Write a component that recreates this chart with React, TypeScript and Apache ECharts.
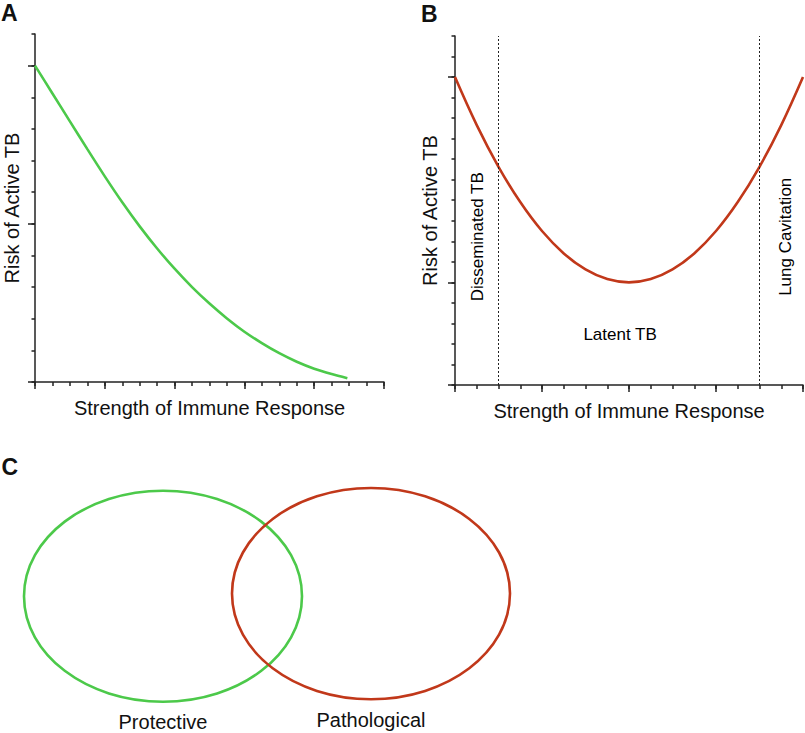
import React, { useEffect, useRef } from "react";
import * as echarts from "echarts";

const FONT = "'Liberation Sans', Arial, Helvetica, sans-serif";
const INK = "#222222";
const GREEN = "#4cc94a";
const RED = "#c1381a";

// ---------- Panel A: risk falls with immune strength ----------
const aX = [0, 1, 2, 3, 4, 5, 6, 7, 8, 9, 10, 11, 12, 13, 14, 15, 16, 17, 17.9];
const aY = [10, 9.12, 8.24, 7.36, 6.5, 5.68, 4.92, 4.22, 3.58, 3.0, 2.48, 2.01, 1.59, 1.23, 0.91, 0.64, 0.42, 0.25, 0.12];
const aXMax = 20;
const aYMax = 11;
const aXMajor = [0, 4, 8, 12, 16, 20];
const aYMajor = [0, 5, 10];

// ---------- Panel B: U-shaped risk ----------
const bX = [0, 1, 2, 3, 4, 5, 6, 7, 8, 9, 10, 11, 12, 13, 14, 15, 16];
const bY = [15, 12.66, 10.63, 8.91, 7.5, 6.41, 5.63, 5.16, 5, 5.16, 5.63, 6.41, 7.5, 8.91, 10.63, 12.66, 15];
const bXMax = 16;
const bYMax = 17;
const bXMajor = [0, 4, 8, 12, 16];
const bYMajor = [0, 5, 15];
const bDashed = [2, 14];
const bLabelNames = ["Disseminated TB", "Lung Cavitation", "Latent TB"];
const bLabelX = [1.03, 15.2, 7.59];
const bLabelY = [7.22, 7.22, 2.44];
const bLabelRotate = [90, 90, 0];

// ---------- Panel C: Venn ----------
const vennNames = ["Protective", "Pathological"];
const vennCx = [163, 371];
const vennCy = [596.2, 593.6];
const vennRx = [139, 139];
const vennRy = [105.5, 105.6];
const vennColors = [GREEN, RED];

const AXIS_NAME_X = "Strength of Immune Response";
const AXIS_NAME_Y = "Risk of Active TB";

const range = (n: number) => Array.from({ length: n + 1 }, (_, i) => String(i));

function valueAxis(gridIndex: number, max: number, name: string, gap: number, tickLen: number) {
  return {
    type: "value",
    gridIndex,
    min: 0,
    max,
    interval: 1,
    name,
    nameLocation: "middle",
    nameGap: gap,
    nameTextStyle: { fontSize: 20, color: "#111", fontFamily: FONT },
    axisLine: { show: true, onZero: false, lineStyle: { color: INK, width: 1.5 } },
    axisTick: { show: true, length: tickLen, lineStyle: { color: INK, width: 1.5 } },
    axisLabel: { show: false },
    splitLine: { show: false },
  };
}

function majorAxis(gridIndex: number, max: number, majors: number[], tickLen: number) {
  return {
    type: "category",
    gridIndex,
    data: range(max),
    boundaryGap: false,
    axisLine: { show: false, onZero: false },
    axisTick: {
      show: true,
      length: tickLen,
      interval: (i: number) => majors.includes(i),
      lineStyle: { color: INK, width: 1.5 },
    },
    axisLabel: { show: false },
    splitLine: { show: false },
  };
}

export default function App() {
  const ref = useRef<HTMLDivElement>(null);

  useEffect(() => {
    document.body.style.margin = "0";
    if (!ref.current) return;
    const chart = echarts.init(ref.current, undefined, { renderer: "svg" });

    const option = {
      animation: false,
      backgroundColor: "#ffffff",
      textStyle: { fontFamily: FONT },
      grid: [
        { left: 35, top: 34, width: 349, height: 348, outerBoundsMode: "none" },
        { left: 455, top: 36, width: 348, height: 349, outerBoundsMode: "none" },
        { left: 0, top: 0, width: 805, height: 733, outerBoundsMode: "none" },
      ],
      xAxis: [
        { ...valueAxis(0, aXMax, AXIS_NAME_X, 15.5, 4), position: "bottom" },
        { ...majorAxis(0, aXMax, aXMajor, 7), position: "bottom" },
        { ...valueAxis(1, bXMax, AXIS_NAME_X, 15.5, 4), position: "bottom" },
        { ...majorAxis(1, bXMax, bXMajor, 7), position: "bottom" },
        { type: "value", gridIndex: 2, min: 0, max: 805, show: false },
      ],
      yAxis: [
        { ...valueAxis(0, aYMax, AXIS_NAME_Y, 13, 3.5), position: "left" },
        { ...majorAxis(0, aYMax, aYMajor, 7), position: "left" },
        { ...valueAxis(1, bYMax, AXIS_NAME_Y, 15.5, 3.5), position: "left" },
        { ...majorAxis(1, bYMax, bYMajor, 7), position: "left" },
        { type: "value", gridIndex: 2, min: 0, max: 733, inverse: true, show: false },
      ],
      graphic: [
        { type: "text", x: 1, y: 13.4, style: { text: "A", fill: "#111", fontSize: 23, fontWeight: "bold", fontFamily: FONT, verticalAlign: "middle" } },
        { type: "text", x: 421, y: 13.6, style: { text: "B", fill: "#111", fontSize: 23, fontWeight: "bold", fontFamily: FONT, verticalAlign: "middle" } },
        { type: "text", x: 1.5, y: 466.5, style: { text: "C", fill: "#111", fontSize: 23, fontWeight: "bold", fontFamily: FONT, verticalAlign: "middle" } },
      ],
      series: [
        {
          type: "line",
          xAxisIndex: 0,
          yAxisIndex: 0,
          data: aX.map((x, i) => [x, aY[i]]),
          showSymbol: false,
          smooth: 0.3,
          lineStyle: { color: GREEN, width: 2.6 },
          silent: true,
        },
        {
          type: "line",
          xAxisIndex: 2,
          yAxisIndex: 2,
          data: bX.map((x, i) => [x, bY[i]]),
          showSymbol: false,
          smooth: 0.4,
          lineStyle: { color: RED, width: 2.6 },
          silent: true,
          markLine: {
            silent: true,
            symbol: ["none", "none"],
            label: { show: false },
            lineStyle: { color: INK, width: 1, type: [2, 2] },
            data: bDashed.map((x) => ({ xAxis: x })),
          },
        },
        {
          type: "scatter",
          xAxisIndex: 2,
          yAxisIndex: 2,
          symbolSize: 1,
          itemStyle: { color: "#ffffff" },
          silent: true,
          data: bLabelNames.map((n, i) => ({
            name: n,
            value: [bLabelX[i], bLabelY[i]],
            label: { rotate: bLabelRotate[i] },
          })),
          label: {
            show: true,
            position: "inside",
            formatter: "{b}",
            fontSize: 17,
            color: "#000000",
            opacity: 1,
            textBorderWidth: 0,
            fontFamily: FONT,
          },
        },
        {
          type: "custom",
          xAxisIndex: 4,
          yAxisIndex: 4,
          silent: true,
          data: vennNames.map((n, i) => [vennCx[i], vennCy[i], vennRx[i], vennRy[i]]),
          renderItem: (params: any, api: any) => {
            const i = params.dataIndex;
            const c = api.coord([api.value(0), api.value(1)]);
            const s = api.size([api.value(2), api.value(3)], [api.value(0), api.value(1)]);
            return {
              type: "group",
              children: [
                {
                  type: "ellipse",
                  shape: { cx: c[0], cy: c[1], rx: s[0], ry: s[1] },
                  style: { fill: "none", stroke: vennColors[i], lineWidth: 2.6 },
                },
                {
                  type: "text",
                  x: c[0],
                  y: c[1] + s[1] + 20.4,
                  style: {
                    text: vennNames[i],
                    fill: "#111",
                    fontSize: 20,
                    fontFamily: FONT,
                    align: "center",
                    verticalAlign: "middle",
                  },
                },
              ],
            };
          },
        },
      ],
    };

    chart.setOption(option as any);
    return () => chart.dispose();
  }, []);

  return <div ref={ref} style={{ width: 805, height: 733 }} />;
}
